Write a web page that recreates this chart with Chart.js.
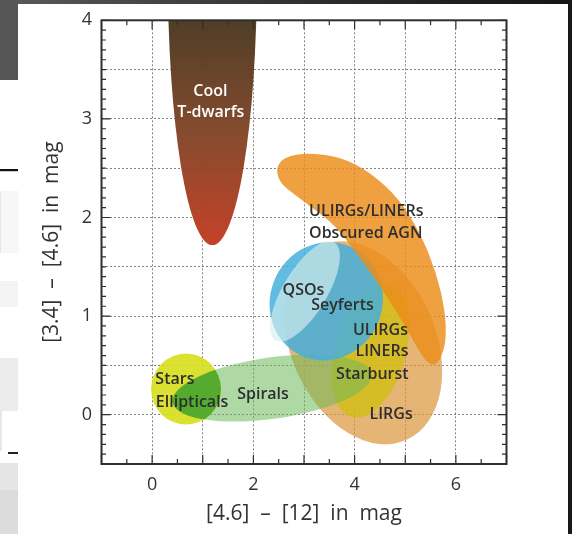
<!DOCTYPE html>
<html>
<head>
<meta charset="utf-8">
<script src="https://cdn.jsdelivr.net/npm/chart.js@4.4.1/dist/chart.umd.min.js"></script>
<style>
  html, body { margin: 0; padding: 0; background: #fff; }
  #wrap { position: relative; width: 572px; height: 534px; overflow: hidden; background: #fff; }
  .deco { position: absolute; }
  #c { position: absolute; left: 0; top: 0; }
</style>
</head>
<body>
<div id="wrap">
  <!-- slide edges around the figure -->
  <div class="deco" style="left:0;top:0;width:572px;height:4px;background:linear-gradient(90deg,#5a5a5a,#2a2a2a 60%,#151515);"></div>
  <div class="deco" style="left:0;top:0;width:18px;height:80px;background:#565656;"></div>
  <div class="deco" style="left:568px;top:0;width:4px;height:534px;background:#181818;"></div>
  <div class="deco" style="left:0;top:169px;width:18px;height:2px;background:#111;"></div>
  <div class="deco" style="left:0;top:171px;width:18px;height:1px;background:#ccc;"></div>
  <div class="deco" style="left:0;top:191px;width:18px;height:62px;background:#f7f7f7;border-left:1px solid #e6e6e6;"></div>
  <div class="deco" style="left:0;top:281px;width:18px;height:26px;background:#f3f3f3;"></div>
  <div class="deco" style="left:0;top:358px;width:18px;height:53px;background:#ececec;"></div>
  <div class="deco" style="left:0;top:411px;width:2px;height:40px;background:#e8e8e8;"></div>
  <div class="deco" style="left:8px;top:452px;width:10px;height:2px;background:#222;"></div>
  <div class="deco" style="left:0;top:463px;width:18px;height:27px;background:#e5e5e5;"></div>
  <div class="deco" style="left:0;top:490px;width:18px;height:44px;background:#dcdcdc;"></div>
  <canvas id="c" width="572" height="534"></canvas>
</div>
<script>
// Axis ranges and labelled tick values
const xRange = [-1, 7];
const yRange = [-0.5, 4];
const xTickLabels = [0, 2, 4, 6];
const yTickLabels = [0, 1, 2, 3, 4];

// Elliptical source regions in the WISE colour-colour plane:
// centre, half-width (x), half-height (y) and tilt (x offset of the top point / half-width)
const regionNames      = ['LIRGs', 'ULIRGs/LINERs/Starburst', 'Spirals', 'Stars', 'QSOs', 'Seyferts', 'Cool T-dwarfs'];
const regionCenterX    = [4.17, 4.31, 2.37, 0.67, 3.44, 3.02, 1.19];
const regionCenterY    = [0.73, 0.65, 0.27, 0.26, 1.15, 1.25, 4.47];
const regionHalfWidth  = [1.56, 0.77, 1.97, 0.69, 1.12, 0.69, 0.88];
const regionHalfHeight = [1.03, 0.68, 0.34, 0.36, 0.60, 0.51, 2.75];
const regionTilt       = [-0.28, 0.35, 0.38, 0.0, 0.05, 0.70, 0.0];
const regionColors     = [
  'rgba(220,150,60,0.70)',
  'rgba(210,190,20,0.80)',
  'rgba(110,185,90,0.55)',
  'rgba(215,222,30,0.92)',
  'rgba(70,175,220,0.85)',
  'rgba(215,240,240,0.65)',
  'gradient'
];
// Cool T-dwarf shading, top to bottom
const tdwarfStops = ['rgba(72,54,30,0.96)', 'rgba(128,68,38,0.96)', 'rgba(195,58,32,0.96)'];

// Ellipticals: where Spirals and Stars overlap
const overlapPairs  = [[2, 3]];
const overlapColors = ['rgba(70,165,45,0.90)'];

// ULIRGs/LINERs + obscured AGN: curved band, outline in data units
const agnOutlineX = [2.45, 2.53, 2.73, 3.02, 3.42, 3.87, 4.35, 4.86, 5.29, 5.61, 5.79, 5.81, 5.69, 5.53, 5.33, 5.00, 4.60, 4.11, 3.62, 3.16, 2.77, 2.53];
const agnOutlineY = [2.48, 2.57, 2.63, 2.65, 2.64, 2.58, 2.44, 2.20, 1.85, 1.45, 1.05, 0.75, 0.55, 0.49, 0.59, 0.90, 1.23, 1.59, 1.92, 2.10, 2.25, 2.35];
const agnColor = 'rgba(235,140,25,0.82)';

// Drawing order, bottom to top ('agn' = the outlined band, 'ell' = Spirals/Stars overlap)
const drawOrder = [0, 1, 2, 3, 'ell', 4, 5, 'agn', 6];

// Region labels (centre of each line of text, data units)
const labelText  = ['Cool', 'T-dwarfs', 'ULIRGs/LINERs', 'Obscured AGN', 'QSOs', 'Seyferts', 'ULIRGs', 'LINERs', 'Starburst', 'Stars', 'Ellipticals', 'Spirals', 'LIRGs'];
const labelX     = [1.15, 1.16, 4.23, 4.22, 2.99, 3.76, 4.51, 4.54, 4.35, 0.45, 0.79, 2.19, 4.72];
const labelY     = [3.28, 3.07, 2.06, 1.84, 1.26, 1.11, 0.85, 0.64, 0.41, 0.36, 0.12, 0.21, 0.005];
const labelColor = ['#fff', '#fff', '#2e2e2e', '#2e2e2e', '#2e2e2e', '#2e2e2e', '#2e2e2e', '#2e2e2e', '#2e2e2e', '#2e2e2e', '#2e2e2e', '#2e2e2e', '#2e2e2e'];

const FONT = '"Open Sans", "DejaVu Sans", sans-serif';

function ellipsePath(ctx, xs, ys, i) {
  const X0 = xs.getPixelForValue(regionCenterX[i]);
  const Y0 = ys.getPixelForValue(regionCenterY[i]);
  const kx = xs.getPixelForValue(1) - xs.getPixelForValue(0);
  const ky = ys.getPixelForValue(0) - ys.getPixelForValue(1);
  const s = regionTilt[i];
  const c = Math.sqrt(1 - s * s);
  const rx = regionHalfWidth[i], ry = regionHalfHeight[i];
  ctx.save();
  ctx.transform(kx * rx, -ky * ry * s, 0, -ky * ry * c, X0, Y0);
  ctx.moveTo(1, 0);
  ctx.arc(0, 0, 1, 0, Math.PI * 2);
  ctx.restore();
}

// smooth closed curve through the midpoints of the outline
function outlinePath(ctx, xs, ys, xv, yv) {
  const pts = xv.map((v, i) => [xs.getPixelForValue(v), ys.getPixelForValue(yv[i])]);
  const n = pts.length;
  const mid = (p, q) => [(p[0] + q[0]) / 2, (p[1] + q[1]) / 2];
  const m = mid(pts[n - 1], pts[0]);
  ctx.moveTo(m[0], m[1]);
  for (let i = 0; i < n; i++) {
    const m2 = mid(pts[i], pts[(i + 1) % n]);
    ctx.quadraticCurveTo(pts[i][0], pts[i][1], m2[0], m2[1]);
  }
  ctx.closePath();
}

const regionsPlugin = {
  id: 'regions',
  beforeDatasetsDraw(chart) {
    const {ctx, chartArea: a, scales: {x, y}} = chart;
    ctx.save();
    ctx.beginPath();
    ctx.rect(a.left, a.top, a.right - a.left, a.bottom - a.top);
    ctx.clip();
    drawOrder.forEach(item => {
      if (item === 'agn') {
        ctx.beginPath();
        outlinePath(ctx, x, y, agnOutlineX, agnOutlineY);
        ctx.fillStyle = agnColor;
        ctx.fill();
      } else if (item === 'ell') {
        overlapPairs.forEach(([p, q], k) => {
          ctx.save();
          ctx.beginPath();
          ellipsePath(ctx, x, y, q);
          ctx.clip();
          ctx.beginPath();
          ellipsePath(ctx, x, y, p);
          ctx.fillStyle = overlapColors[k];
          ctx.fill();
          ctx.restore();
        });
      } else {
        const i = item;
        ctx.beginPath();
        ellipsePath(ctx, x, y, i);
        if (regionColors[i] === 'gradient') {
          const g = ctx.createLinearGradient(0, y.getPixelForValue(yRange[1]), 0,
            y.getPixelForValue(regionCenterY[i] - regionHalfHeight[i]));
          tdwarfStops.forEach((col, k) => g.addColorStop(k / (tdwarfStops.length - 1), col));
          ctx.fillStyle = g;
        } else {
          ctx.fillStyle = regionColors[i];
        }
        ctx.fill();
      }
    });
    ctx.restore();
  }
};

const framePlugin = {
  id: 'frame',
  afterDraw(chart) {
    const {ctx, chartArea: a, scales: {x, y}} = chart;
    ctx.save();
    ctx.strokeStyle = '#2f2f2f';
    ctx.lineWidth = 1.2;
    // inward ticks on all four sides
    ctx.beginPath();
    for (let v = xRange[0]; v <= xRange[1] + 1e-9; v += 0.5) {
      const px = x.getPixelForValue(v);
      const len = Math.abs(v - Math.round(v)) < 1e-6 ? 9 : 5;
      ctx.moveTo(px, a.bottom); ctx.lineTo(px, a.bottom - len);
      ctx.moveTo(px, a.top); ctx.lineTo(px, a.top + len);
    }
    for (let k = 0; k <= Math.round((yRange[1] - yRange[0]) * 10); k++) {
      const v = yRange[0] + k * 0.1;
      const py = y.getPixelForValue(v);
      const len = Math.abs(v - Math.round(v)) < 1e-6 ? 9 : 4.5;
      ctx.moveTo(a.left, py); ctx.lineTo(a.left + len, py);
      ctx.moveTo(a.right, py); ctx.lineTo(a.right - len, py);
    }
    ctx.stroke();
    // frame
    ctx.lineWidth = 2;
    ctx.strokeRect(a.left, a.top, a.right - a.left, a.bottom - a.top);
    // region labels
    ctx.font = '600 16px ' + FONT;
    ctx.textAlign = 'center';
    ctx.textBaseline = 'middle';
    labelText.forEach((t, i) => {
      ctx.fillStyle = labelColor[i];
      ctx.fillText(t, x.getPixelForValue(labelX[i]), y.getPixelForValue(labelY[i]));
    });
    ctx.restore();
  }
};

new Chart(document.getElementById('c'), {
  type: 'scatter',
  data: { datasets: [] },
  options: {
    responsive: false,
    animation: false,
    layout: { padding: { top: 16.7, right: 65.5, left: 0, bottom: 0 } },
    plugins: { legend: { display: false }, tooltip: { enabled: false } },
    scales: {
      x: {
        type: 'linear',
        min: xRange[0], max: xRange[1],
        z: 1,
        afterFit(scale) { scale.height = 70; },
        ticks: {
          stepSize: 1, autoSkip: false, maxRotation: 0, padding: 10,
          color: '#333', font: { family: FONT, size: 18 },
          callback: v => xTickLabels.includes(v) ? String(v) : ''
        },
        grid: { color: 'rgba(110,110,110,0.85)', lineWidth: 1, drawTicks: false },
        border: { display: false, dash: [2, 2] },
        title: {
          display: true, text: '[4.6]  –  [12]  in  mag', color: '#333',
          font: { family: FONT, size: 21 }, padding: { top: 0, bottom: 7.5 }
        }
      },
      y: {
        type: 'linear',
        min: yRange[0], max: yRange[1],
        z: 1,
        afterFit(scale) { scale.width = 101.5; },
        ticks: {
          stepSize: 0.5, autoSkip: false, padding: 9.5,
          color: '#333', font: { family: FONT, size: 18 },
          callback: v => yTickLabels.includes(v) ? String(v) : ''
        },
        grid: { color: 'rgba(110,110,110,0.85)', lineWidth: 1, drawTicks: false },
        border: { display: false, dash: [2, 2] },
        title: {
          display: true, text: '[3.4]  –  [4.6]  in  mag', color: '#333',
          font: { family: FONT, size: 21 }, padding: { top: 39, bottom: 0 }
        }
      }
    }
  },
  plugins: [regionsPlugin, framePlugin]
});
</script>
</body>
</html>
